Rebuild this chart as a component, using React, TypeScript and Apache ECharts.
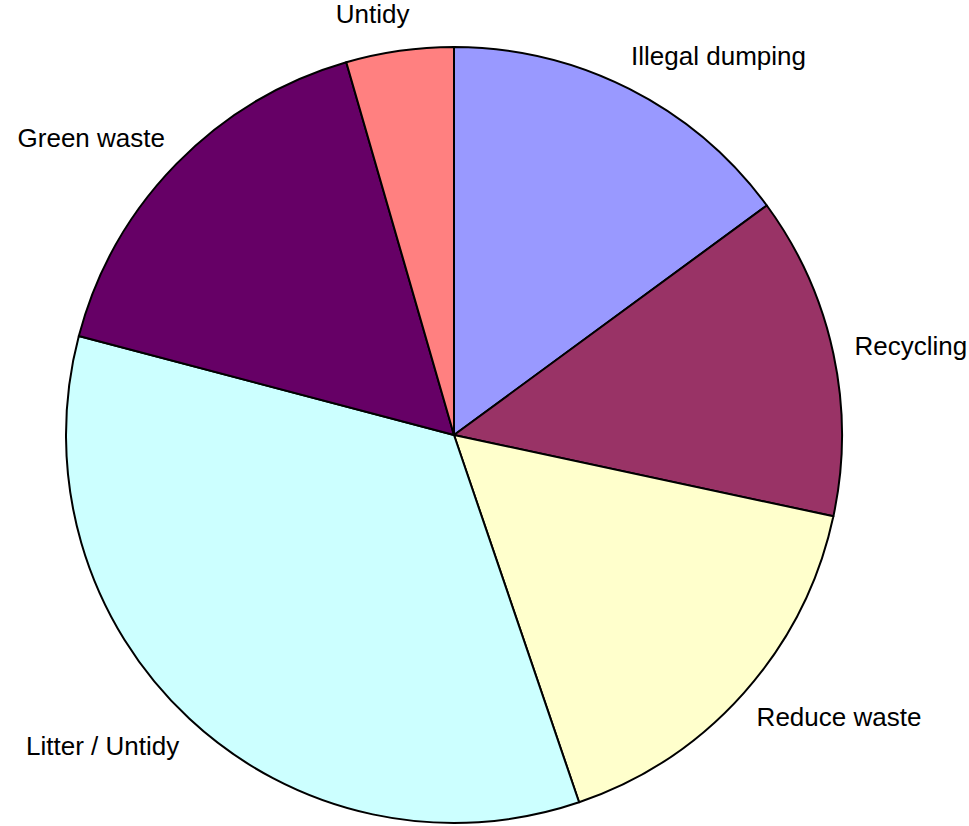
import React, { useEffect, useRef } from "react";
import * as echarts from "echarts";

const categories = ["Illegal dumping", "Recycling", "Reduce waste", "Litter / Untidy", "Green waste", "Untidy"];
const values = [10, 9, 11, 23, 11, 3];
const colors = ["#9999FF", "#993366", "#FFFFCC", "#CCFFFF", "#660066", "#FF8080"];

export default function App() {
  const ref = useRef<HTMLDivElement>(null);
  useEffect(() => {
    if (!ref.current) return;
    const chart = echarts.init(ref.current, null, { renderer: "svg" });
    chart.setOption({
      animation: false,
      backgroundColor: "#ffffff",
      series: [
        {
          type: "pie",
          center: [454, 435],
          radius: 388,
          startAngle: 90,
          clockwise: true,
          avoidLabelOverlap: false,
          data: categories.map((name, i) => ({
            name,
            value: values[i],
            itemStyle: { color: colors[i] },
          })),
          itemStyle: { borderColor: "#000000", borderWidth: 2 },
          label: {
            show: true,
            position: "outside",
            formatter: "{b}",
            color: "#000000",
            fontSize: 26,
            fontFamily: "'Liberation Sans', Arial, sans-serif",
            distanceToLabelLine: -15,
            bleedMargin: 0,
            overflow: "none",
          },
          labelLine: { show: false, length: 37, length2: 0 },
          emphasis: { disabled: true },
        },
      ],
    });
    return () => chart.dispose();
  }, []);
  return (
    <div
      ref={ref}
      style={{ position: "fixed", left: 0, top: 0, width: 969, height: 826 }}
    />
  );
}
